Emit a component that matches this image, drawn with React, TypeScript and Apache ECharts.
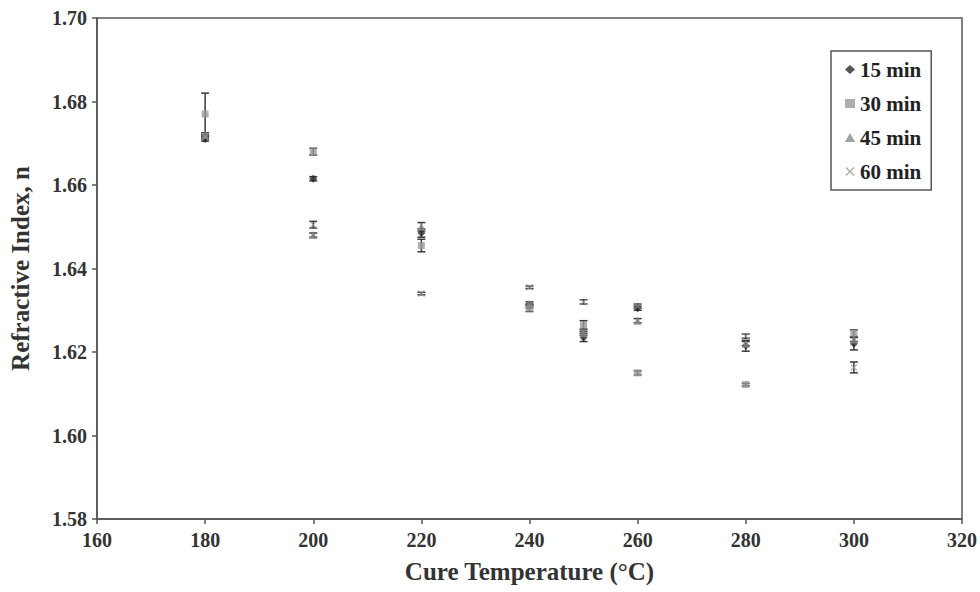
import React, { useEffect, useRef } from "react";
import * as echarts from "echarts";

const temps = [180, 200, 220, 240, 250, 260, 280, 300];

const min15 = [1.671, 1.6615, 1.6485, 1.631, 1.6235, 1.6305, 1.6215, 1.622];
const err15 = [0.0005, 0.0005, 0.001, 0.0005, 0.001, 0.0005, 0.0013, 0.0015];

const min30 = [1.677, 1.668, 1.6455, 1.6305, 1.6265, 1.615, 1.6122, 1.6245];
const err30 = [0.005, 0.0008, 0.0015, 0.0008, 0.001, 0.0005, 0.0003, 0.0008];

const min45 = [1.672, 1.648, 1.65, 1.6315, 1.6245, 1.6275, 1.622, 1.623];
const err45 = [0.0005, 0.0005, 0.001, 0.0005, 0.0005, 0.0005, 0.0005, 0.0005];

const min60 = [1.6715, 1.6505, 1.634, 1.6355, 1.632, 1.631, 1.6238, 1.6163];
const err60 = [0.0005, 0.0008, 0.0003, 0.0003, 0.0005, 0.0005, 0.0005, 0.0013];

const seriesNames = ["15 min", "30 min", "45 min", "60 min"];
const xTicks = { min: 160, max: 320, interval: 20 };
const yTicks = { min: 1.58, max: 1.7, interval: 0.02 };

const FONT = "'Liberation Serif', 'DejaVu Serif', serif";
const X_SYMBOL =
  "path://M0,1.2 L1.2,0 L5,3.8 L8.8,0 L10,1.2 L6.2,5 L10,8.8 L8.8,10 L5,6.2 L1.2,10 L0,8.8 L3.8,5 Z";

const defs = [
  { name: seriesNames[0], vals: min15, errs: err15, symbol: "diamond", size: 8, color: "#2a2a2a" },
  { name: seriesNames[1], vals: min30, errs: err30, symbol: "rect", size: 7, color: "#9a9a9a" },
  { name: seriesNames[2], vals: min45, errs: err45, symbol: "triangle", size: 8, color: "#8a8a8a" },
  { name: seriesNames[3], vals: min60, errs: err60, symbol: X_SYMBOL, size: 7, color: "#9a9a9a" },
];

export default function App() {
  const ref = useRef<HTMLDivElement>(null);

  useEffect(() => {
    if (!ref.current) return;
    const chart = echarts.init(ref.current, undefined, { renderer: "svg" });

    const series: any[] = [];
    defs.forEach((d) => {
      series.push({
        name: d.name + " err",
        type: "custom",
        z: 1,
        data: temps.map((t, i) => [t, d.vals[i], d.vals[i] - d.errs[i], d.vals[i] + d.errs[i]]),
        encode: { x: 0, y: 1 },
        renderItem: (params: any, api: any) => {
          const x = api.value(0);
          const lo = api.coord([x, api.value(2)]);
          const hi = api.coord([x, api.value(3)]);
          const hw = 4;
          const style = { stroke: "#3a3a3a", lineWidth: 1.5 };
          return {
            type: "group",
            children: [
              { type: "line", shape: { x1: hi[0], y1: hi[1], x2: lo[0], y2: lo[1] }, style },
              { type: "line", shape: { x1: hi[0] - hw, y1: hi[1], x2: hi[0] + hw, y2: hi[1] }, style },
              { type: "line", shape: { x1: lo[0] - hw, y1: lo[1], x2: lo[0] + hw, y2: lo[1] }, style },
            ],
          };
        },
      });
      series.push({
        name: d.name,
        type: "scatter",
        z: 3,
        symbol: d.symbol,
        symbolSize: d.size,
        itemStyle: { color: d.color },
        data: temps.map((t, i) => [t, d.vals[i]]),
      });
    });

    chart.setOption({
      animation: false,
      backgroundColor: "#ffffff",
      grid: {
        left: 97,
        right: 17,
        top: 18,
        bottom: 73,
        show: true,
        borderColor: "#555",
        borderWidth: 1.5,
      },
      legend: {
        data: seriesNames,
        orient: "vertical",
        left: 831,
        top: 51,
        padding: [8, 10, 8, 14],
        itemGap: 13,
        itemWidth: 10,
        itemHeight: 9,
        borderColor: "#555",
        borderWidth: 1.5,
        backgroundColor: "#fff",
        textStyle: {
          fontFamily: FONT,
          fontWeight: "bold",
          fontSize: 21,
          lineHeight: 20,
          color: "#222",
        },
      },
      xAxis: {
        type: "value",
        min: xTicks.min,
        max: xTicks.max,
        interval: xTicks.interval,
        name: "Cure Temperature (°C)",
        nameLocation: "middle",
        nameGap: 40,
        nameTextStyle: { fontFamily: FONT, fontWeight: "bold", fontSize: 25, color: "#333" },
        axisLine: { show: true, lineStyle: { color: "#555", width: 1.5 } },
        axisTick: { show: true, length: 5, lineStyle: { color: "#555", width: 1.5 } },
        axisLabel: { fontFamily: FONT, fontWeight: "bold", fontSize: 20, color: "#333", margin: 11 },
        splitLine: { show: false },
      },
      yAxis: {
        type: "value",
        min: yTicks.min,
        max: yTicks.max,
        interval: yTicks.interval,
        name: "Refractive Index, n",
        nameLocation: "middle",
        nameGap: 64,
        nameTextStyle: { fontFamily: FONT, fontWeight: "bold", fontSize: 25, color: "#333" },
        axisLine: { show: true, lineStyle: { color: "#555", width: 1.5 } },
        axisTick: { show: true, length: 5, lineStyle: { color: "#555", width: 1.5 } },
        axisLabel: {
          fontFamily: FONT,
          fontWeight: "bold",
          fontSize: 20,
          color: "#333",
          margin: 10,
          formatter: (v: number) => v.toFixed(2),
        },
        splitLine: { show: false },
      },
      series,
    });

    return () => chart.dispose();
  }, []);

  return <div ref={ref} style={{ width: 980, height: 592, position: "absolute", left: 0, top: 0 }} />;
}
